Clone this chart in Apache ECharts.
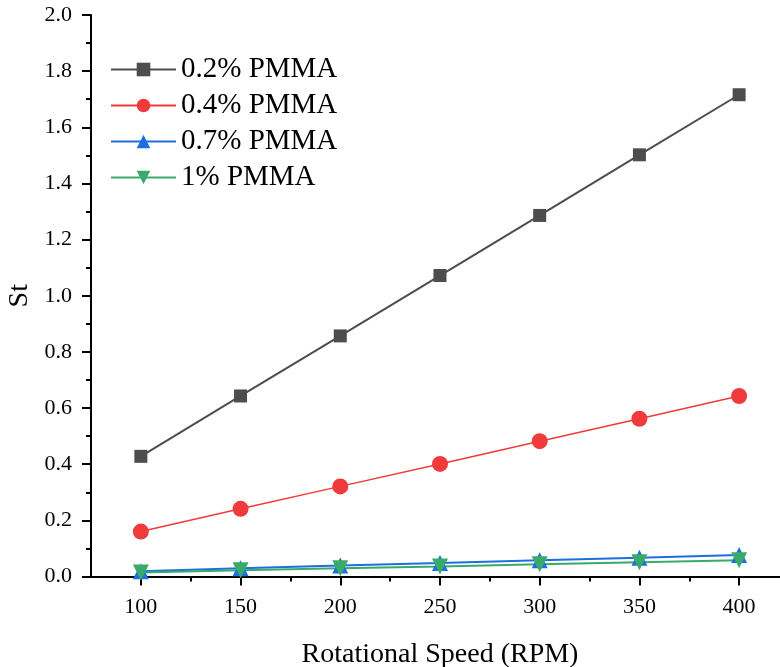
<!DOCTYPE html>
<html><head><meta charset="utf-8">
<script src="https://cdn.jsdelivr.net/npm/echarts@6/dist/echarts.min.js"></script>
<style>html,body{margin:0;padding:0;background:#fff}#c{width:780px;height:667px}</style>
</head><body><div id="c"></div>
<script>
const rpm = [100, 150, 200, 250, 300, 350, 400];
const pmma02 = [0.428, 0.643, 0.857, 1.072, 1.286, 1.502, 1.716];
const pmma04 = [0.160, 0.241, 0.321, 0.401, 0.482, 0.562, 0.643];
const pmma07 = [0.019, 0.029, 0.039, 0.048, 0.058, 0.067, 0.077];
const pmma1  = [0.014, 0.022, 0.029, 0.036, 0.044, 0.051, 0.058];
const seriesNames = ['0.2% PMMA', '0.4% PMMA', '0.7% PMMA', '1% PMMA'];
const xMajor = [100, 150, 200, 250, 300, 350, 400];
const xMinor = [125, 175, 225, 275, 325, 375];

const font = 'Liberation Serif';
const colors = ['#4d4d4d', '#ef3b3b', '#1d6fe0', '#3aaa6b'];
const symbols = ['rect', 'circle', 'triangle', 'triangle'];
const sizes = [13, 16, 16, 16];
const dataSets = [pmma02, pmma04, pmma07, pmma1];

const chart = echarts.init(document.getElementById('c'), null, {renderer: 'canvas'});
chart.setOption({
  animation: false,
  backgroundColor: '#fff',
  grid: {left: 91, right: 0, top: 15, bottom: 90.5, containLabel: false, outerBoundsMode: 'none'},
  legend: {
    left: 110, top: 55, orient: 'vertical', padding: 0,
    itemWidth: 65, itemHeight: 17, itemGap: 7,
    textStyle: {fontFamily: font, fontSize: 29, color: '#000'},
    data: seriesNames
  },
  xAxis: [{
    type: 'value', min: 75, max: 420.5,
    name: 'Rotational Speed (RPM)', nameLocation: 'middle', nameGap: 64,
    nameTextStyle: {fontFamily: font, fontSize: 28, color: '#000', padding: [0, 0, 0, 9]},
    axisLine: {show: true, onZero: false, lineStyle: {color: '#000', width: 2}},
    axisTick: {show: true, length: 9, customValues: xMajor, lineStyle: {color: '#000', width: 2}},
    axisLabel: {customValues: xMajor, margin: 20, fontFamily: font, fontSize: 22, color: '#000'},
    splitLine: {show: false}
  }, {
    type: 'value', min: 75, max: 420.5, position: 'bottom',
    axisLine: {show: false},
    axisTick: {show: true, length: 5, customValues: xMinor, lineStyle: {color: '#000', width: 2}},
    axisLabel: {show: false},
    splitLine: {show: false}
  }],
  yAxis: {
    type: 'value', min: 0, max: 2.0, interval: 0.2,
    name: 'St', nameLocation: 'middle', nameGap: 52, nameRotate: 90,
    nameTextStyle: {fontFamily: font, fontSize: 28, color: '#000'},
    axisLine: {show: true, lineStyle: {color: '#000', width: 2}},
    axisTick: {show: true, length: 9, lineStyle: {color: '#000', width: 2}},
    minorTick: {show: true, splitNumber: 2, length: 5, lineStyle: {color: '#000', width: 2}},
    axisLabel: {margin: 19, fontFamily: font, fontSize: 22, color: '#000', formatter: v => v.toFixed(1)},
    splitLine: {show: false}
  },
  series: seriesNames.map((n, i) => ({
    name: n, type: 'line',
    data: rpm.map((x, j) => [x, dataSets[i][j]]),
    symbol: symbols[i], symbolSize: sizes[i], symbolRotate: i === 3 ? 180 : 0,
    showAllSymbol: true,
    lineStyle: {color: colors[i], width: i === 1 ? 1.5 : 2},
    itemStyle: {color: colors[i], opacity: 1}
  }))
});
</script></body></html>
